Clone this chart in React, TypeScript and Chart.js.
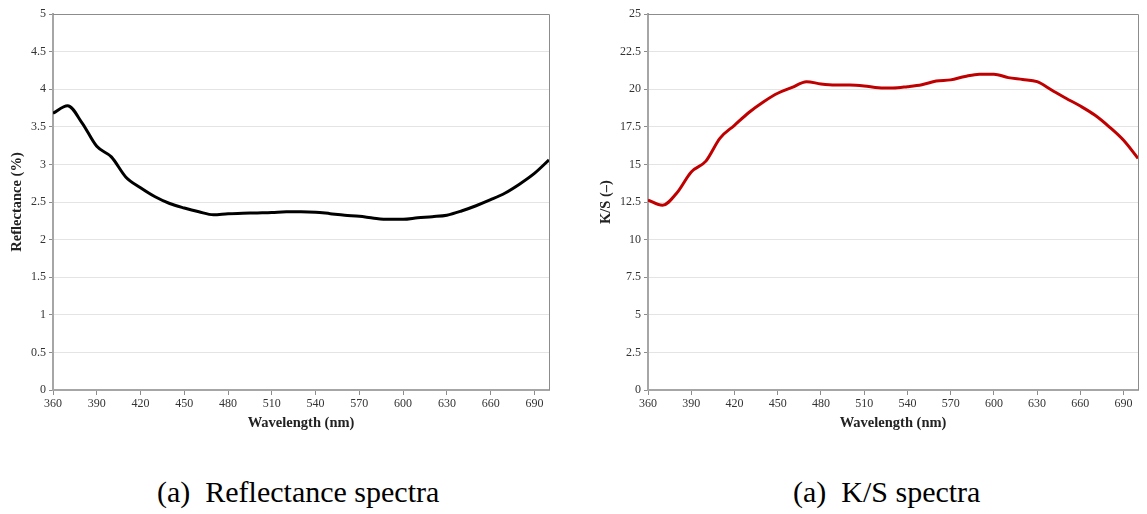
import React, { useEffect, useRef } from "react";
import { Chart, registerables } from "chart.js";

Chart.register(...registerables);

const wavelengths = [360, 370, 380, 390, 400, 410, 420, 430, 440, 450, 460, 470, 480, 490, 500, 510, 520, 530, 540, 550, 560, 570, 580, 590, 600, 610, 620, 630, 640, 650, 660, 670, 680, 690, 700];
const reflectance = [3.68, 3.78, 3.55, 3.24, 3.1, 2.83, 2.69, 2.57, 2.48, 2.42, 2.37, 2.33, 2.345, 2.35, 2.355, 2.36, 2.37, 2.37, 2.365, 2.345, 2.325, 2.31, 2.285, 2.27, 2.27, 2.29, 2.305, 2.325, 2.38, 2.45, 2.53, 2.62, 2.74, 2.88, 3.06];
const ksValues = [12.63, 12.28, 13.1, 14.5, 15.2, 16.75, 17.6, 18.45, 19.15, 19.73, 20.12, 20.5, 20.35, 20.28, 20.28, 20.22, 20.1, 20.08, 20.17, 20.3, 20.54, 20.62, 20.85, 21.0, 21.0, 20.77, 20.65, 20.5, 19.95, 19.4, 18.88, 18.28, 17.5, 16.6, 15.4];
const xTicks = [360, 390, 420, 450, 480, 510, 540, 570, 600, 630, 660, 690];

const FONT = "Liberation Serif";

const borderPlugin = {
  id: "plotBorder",
  afterDraw(chart: any) {
    const { ctx, chartArea } = chart;
    ctx.save();
    ctx.strokeStyle = "#8c8c8c";
    ctx.lineWidth = 1;
    ctx.beginPath();
    ctx.moveTo(chartArea.left, chartArea.top + 0.5);
    ctx.lineTo(chartArea.right + 0.5, chartArea.top + 0.5);
    ctx.lineTo(chartArea.right + 0.5, chartArea.bottom);
    ctx.stroke();
    ctx.restore();
  },
};

function SpectrumChart(props: {
  values: number[];
  color: string;
  yMax: number;
  yStep: number;
  yTitle: string;
  yAxisWidth: number;
  padRight: number;
  yTitlePad: number;
  left: number;
  width: number;
}) {
  const ref = useRef<HTMLCanvasElement>(null);
  useEffect(() => {
    if (!ref.current) return;
    const chart = new Chart(ref.current, {
      type: "line",
      data: {
        datasets: [
          {
            data: wavelengths.map((w, i) => ({ x: w, y: props.values[i] })),
            borderColor: props.color,
            borderWidth: 3,
            pointRadius: 0,
            cubicInterpolationMode: "monotone",
            fill: false,
          },
        ],
      },
      options: {
        animation: false,
        responsive: false,
        layout: { padding: { top: 14, right: props.padRight, left: 0, bottom: 0 } },
        plugins: { legend: { display: false }, tooltip: { enabled: false } },
        scales: {
          x: {
            type: "linear",
            min: 360,
            max: 700,
            afterBuildTicks: (axis: any) => {
              axis.ticks = xTicks.map((v) => ({ value: v }));
            },
            afterFit: (axis: any) => {
              axis.height = 50;
            },
            grid: {
              display: true,
              drawOnChartArea: false,
              drawTicks: true,
              tickLength: 5,
              tickColor: "#8c8c8c",
              color: "#8c8c8c",
            },
            border: { display: true, color: "#a6a6a6", width: 2 },
            ticks: {
              font: { family: FONT, size: 12 },
              color: "#333",
              padding: 2,
              maxRotation: 0,
              autoSkip: false,
              callback: (v: any) => String(v),
            },
            title: {
              display: true,
              text: "Wavelength (nm)",
              font: { family: FONT, size: 14.5, weight: "bold" },
              color: "#222",
              padding: { top: 0, bottom: 8 },
            },
          },
          y: {
            type: "linear",
            min: 0,
            max: props.yMax,
            afterFit: (axis: any) => {
              axis.width = props.yAxisWidth;
            },
            grid: {
              display: true,
              color: "#e4e4e4",
              lineWidth: 1,
              drawTicks: true,
              tickLength: 4,
              tickColor: "#8c8c8c",
            },
            border: { display: true, color: "#a6a6a6", width: 2 },
            ticks: {
              stepSize: props.yStep,
              font: { family: FONT, size: 12 },
              color: "#333",
              padding: 3,
              callback: (v: any) => String(Math.round(Number(v) * 10) / 10),
            },
            title: {
              display: true,
              text: props.yTitle,
              font: { family: FONT, size: 14.5, weight: "bold" },
              color: "#222",
              padding: { top: props.yTitlePad, bottom: 0 },
            },
          },
        },
      },
      plugins: [borderPlugin],
    } as any);
    return () => chart.destroy();
  }, []);
  return (
    <canvas
      ref={ref}
      width={props.width}
      height={440}
      style={{ position: "absolute", left: props.left, top: 0, width: props.width, height: 440 }}
    />
  );
}

const captionStyle: React.CSSProperties = {
  position: "absolute",
  top: 475,
  fontFamily: FONT,
  fontSize: 30,
  lineHeight: "34px",
  color: "#000",
  whiteSpace: "pre",
};

export default function App() {
  return (
    <div style={{ position: "absolute", left: 0, top: 0, width: 1147, height: 514, background: "#fff", overflow: "hidden" }}>
      <SpectrumChart
        values={reflectance}
        color="#000000"
        yMax={5}
        yStep={0.5}
        yTitle="Reflectance (%)"
        yAxisWidth={53}
        padRight={24}
        yTitlePad={9}
        left={0}
        width={573}
      />
      <SpectrumChart
        values={ksValues}
        color="#c00000"
        yMax={25}
        yStep={2.5}
        yTitle="K/S (–)"
        yAxisWidth={75}
        padRight={9}
        yTitlePad={25}
        left={573}
        width={574}
      />
      <div style={{ ...captionStyle, left: 157 }}>(a)  Reflectance spectra</div>
      <div style={{ ...captionStyle, left: 793 }}>(a)  K/S spectra</div>
    </div>
  );
}
